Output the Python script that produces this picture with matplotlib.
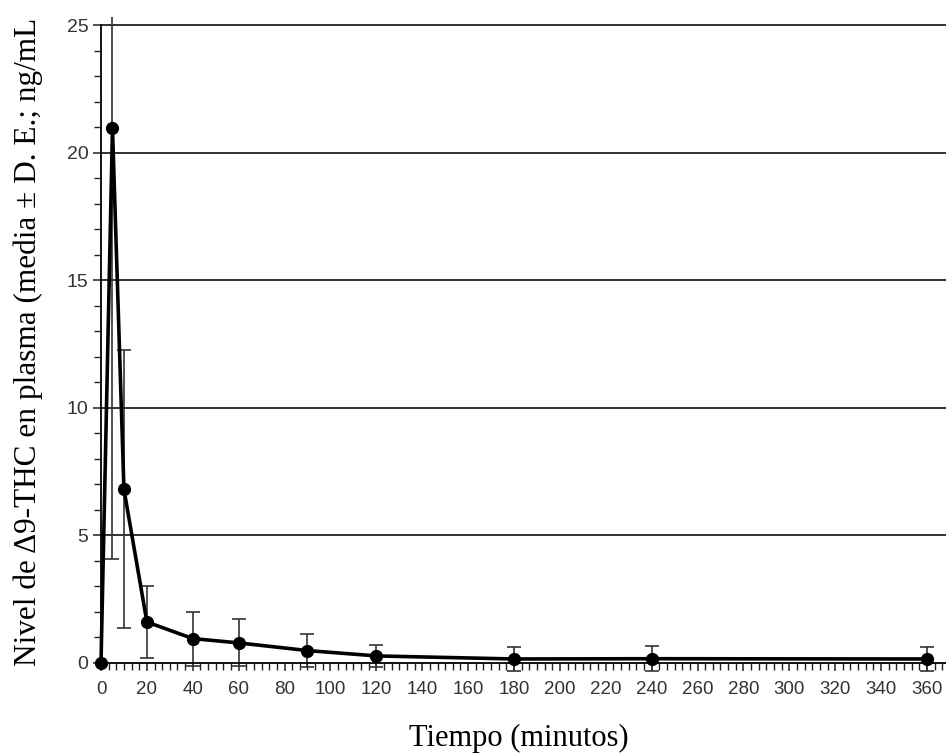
import numpy as np
import matplotlib
matplotlib.use('Agg')
import matplotlib.pyplot as plt
from matplotlib.ticker import MultipleLocator

# tiempo de muestreo (minutos) y nivel medio de THC (ng/mL) con su D.E.
tiempo = [0, 5, 10, 20, 40, 60, 90, 120, 180, 240, 360]
media = [0.0, 20.95, 6.8, 1.6, 0.95, 0.78, 0.48, 0.27, 0.15, 0.16, 0.15]
de = [0.0, 16.9, 5.45, 1.4, 1.06, 0.92, 0.63, 0.43, 0.48, 0.5, 0.48]

fig = plt.figure(figsize=(9.46, 7.55), dpi=100)
ax = fig.add_axes([101/946, 0.1086, 1 - 101/946, 0.977 - 0.1086])

ax.set_xlim(0, 368.3)
ax.set_ylim(-0.4, 25.3)

for g in [5, 10, 15, 20, 25]:
    ax.axhline(g, color='#222222', lw=1.3, zorder=1)

ax.errorbar(tiempo, media, yerr=de, fmt='none', ecolor='#333333',
            elinewidth=1.2, capsize=5, capthick=1.2, zorder=2)
ax.plot(tiempo, media, color='black', lw=2.6, marker='o', ms=8.5,
        clip_on=False, zorder=3)

for s in ['top', 'right']:
    ax.spines[s].set_visible(False)
ax.spines['bottom'].set_position(('data', 0))
ax.spines['left'].set_bounds(0, 25)
ax.spines['left'].set_linewidth(1.3)
ax.spines['bottom'].set_linewidth(1.3)

ax.xaxis.set_major_locator(MultipleLocator(20))
ax.xaxis.set_minor_locator(MultipleLocator(20/6))
ax.yaxis.set_major_locator(MultipleLocator(5))
ax.yaxis.set_minor_locator(MultipleLocator(1))
ax.tick_params(axis='x', which='major', length=6, width=1.1, labelsize=13.5,
               pad=7, colors='#222222', labelcolor='#333333')
ax.tick_params(axis='x', which='minor', length=5, width=1.0, colors='#222222')
ax.tick_params(axis='y', which='major', length=6, width=1.1, labelsize=14,
               pad=3, colors='#222222', labelcolor='#333333')
ax.tick_params(axis='y', which='minor', length=5, width=1.0, colors='#222222')
for lab in ax.get_xticklabels() + ax.get_yticklabels():
    lab.set_family(['Liberation Sans', 'DejaVu Sans'])

fig.text(519/946, 1 - 738/755, 'Tiempo (minutos)', ha='center', va='center',
         fontsize=22, family=['Liberation Serif', 'DejaVu Serif'])
fig.text(28/946, 1 - 342/755, 'Nivel de \u03949-THC en plasma (media \u00b1 D. E.; ng/mL',
         ha='center', va='center', rotation=90, fontsize=22.5,
         family=['Liberation Serif', 'DejaVu Serif'])

fig.savefig('out.png', dpi=100)
